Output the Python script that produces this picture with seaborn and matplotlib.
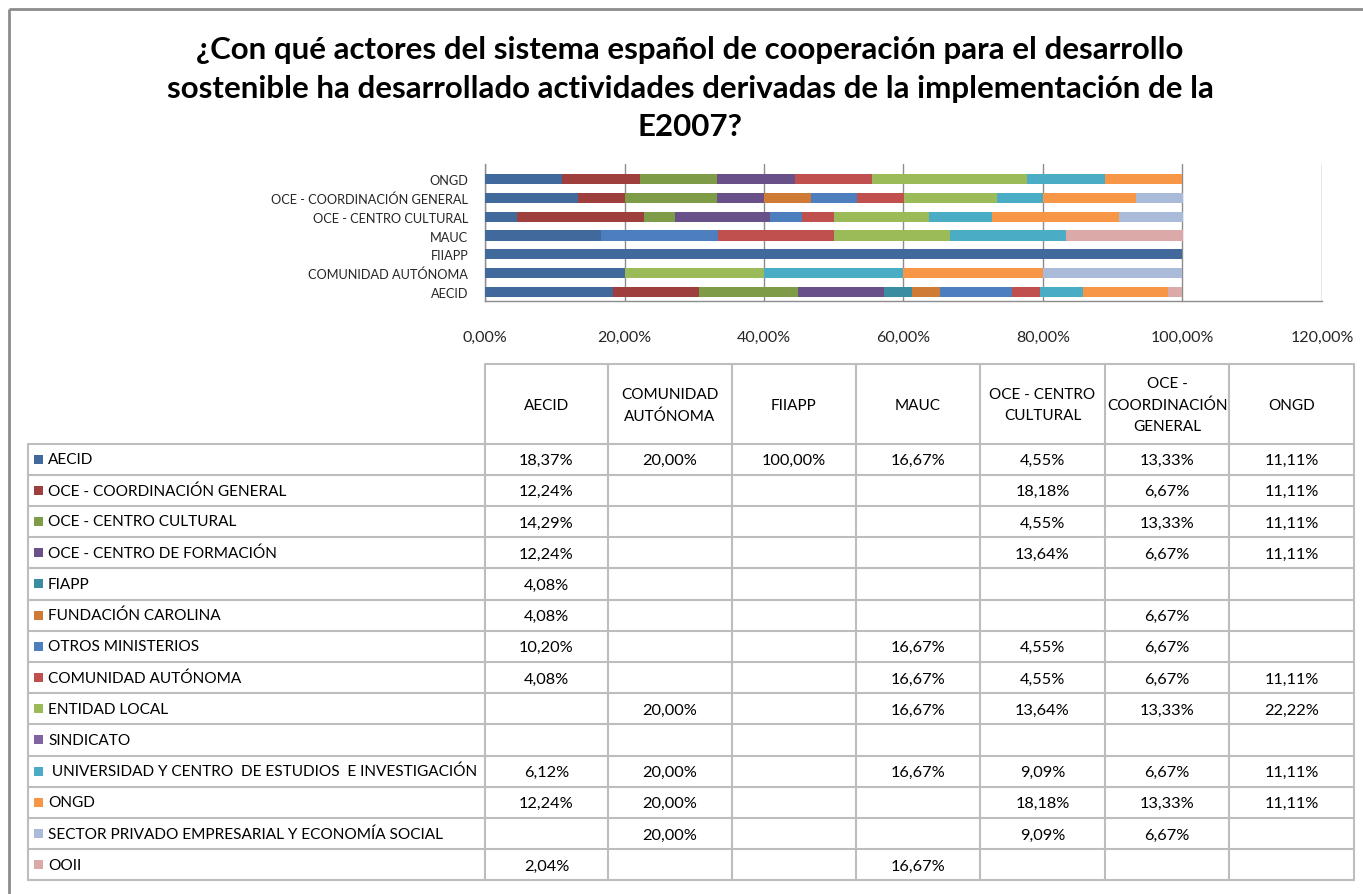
import numpy as np
import pandas as pd
import matplotlib
matplotlib.use("Agg")
import matplotlib.pyplot as plt
import seaborn as sns

# ---------------- data ----------------
categories = ["AECID", "COMUNIDAD AUTÓNOMA", "FIIAPP", "MAUC",
              "OCE - CENTRO CULTURAL", "OCE - COORDINACIÓN GENERAL", "ONGD"]
header_labels = ["AECID", "COMUNIDAD\nAUTÓNOMA", "FIIAPP", "MAUC",
                 "OCE - CENTRO\nCULTURAL", "OCE -\nCOORDINACIÓN\nGENERAL", "ONGD"]
series = ["AECID", "OCE - COORDINACIÓN GENERAL", "OCE - CENTRO CULTURAL",
          "OCE - CENTRO DE FORMACIÓN", "FIAPP", "FUNDACIÓN CAROLINA",
          "OTROS MINISTERIOS", "COMUNIDAD AUTÓNOMA", "ENTIDAD LOCAL", "SINDICATO",
          " UNIVERSIDAD Y CENTRO  DE ESTUDIOS  E INVESTIGACIÓN", "ONGD",
          "SECTOR PRIVADO EMPRESARIAL Y ECONOMÍA SOCIAL", "OOII"]

v_aecid = [18.37, 12.24, 14.29, 12.24, 4.08, 4.08, 10.20, 4.08, 0, 0, 6.12, 12.24, 0, 2.04]
v_comunidad = [20.00, 0, 0, 0, 0, 0, 0, 0, 20.00, 0, 20.00, 20.00, 20.00, 0]
v_fiiapp = [100.00, 0, 0, 0, 0, 0, 0, 0, 0, 0, 0, 0, 0, 0]
v_mauc = [16.67, 0, 0, 0, 0, 0, 16.67, 16.67, 16.67, 0, 16.67, 0, 0, 16.67]
v_oce_cc = [4.55, 18.18, 4.55, 13.64, 0, 0, 4.55, 4.55, 13.64, 0, 9.09, 18.18, 9.09, 0]
v_oce_cg = [13.33, 6.67, 13.33, 6.67, 0, 6.67, 6.67, 6.67, 13.33, 0, 6.67, 13.33, 6.67, 0]
v_ongd = [11.11, 11.11, 11.11, 11.11, 0, 0, 0, 11.11, 22.22, 0, 11.11, 11.11, 0, 0]

xticks = [0, 20, 40, 60, 80, 100, 120]

colors = ["#41699B", "#9E3F3D", "#7E9B48", "#6A5089", "#3A8CA1", "#CF7B35",
          "#4D7EBD", "#C0504D", "#9BBB59", "#8064A2", "#4BACC6", "#F79646",
          "#A9BBD9", "#DBA9A8"]

title_lines = ["¿Con qué actores del sistema español de cooperación para el desarrollo",
               "sostenible ha desarrollado actividades derivadas de la implementación de la",
               "E2007?"]

df = pd.DataFrame({c: v for c, v in zip(categories,
                   [v_aecid, v_comunidad, v_fiiapp, v_mauc, v_oce_cc, v_oce_cg, v_ongd])},
                  index=series)

# ---------------- figure ----------------
sns.set_theme(style="white")
FONT = ["Lato", "DejaVu Sans"]
plt.rcParams["font.family"] = FONT

W, H = 1363, 895
fig = plt.figure(figsize=(W / 100, H / 100), dpi=100)
fig.patch.set_facecolor("white")

# overlay axes in pixel coordinates for frame/table
tax = fig.add_axes([0, 0, 1, 1])
tax.set_xlim(0, W)
tax.set_ylim(H, 0)
tax.axis("off")
tax.patch.set_alpha(0)

# outer frame
tax.plot([9, 9], [10, H], color="#8C8C8C", lw=2, solid_capstyle="butt")
tax.plot([9, W], [10, 10], color="#8C8C8C", lw=2, solid_capstyle="butt")

# title
for yy, line in zip([50, 89, 127], title_lines):
    tax.text(690, yy, line, ha="center", va="center", fontsize=22.5,
             fontweight="bold", color="black")

# ---------------- stacked bar chart ----------------
x0, x1, y0, y1 = 485, 1322, 165, 302
ax = fig.add_axes([x0 / W, 1 - y1 / H, (x1 - x0) / W, (y1 - y0) / H])
order = categories[::-1]
cum = df.cumsum(axis=0)
for i in range(len(series) - 1, -1, -1):
    sns.barplot(x=cum.iloc[i][order].values, y=order, order=order, orient="h",
                color=colors[i], saturation=1, width=0.54, linewidth=0,
                ax=ax, zorder=3)
ax.set_xlim(0, 120)
ax.set_ylim(6.48, -0.80)
ax.set_xticks(xticks)
ax.set_xticklabels([f"{t:.2f}".replace(".", ",") + "%" for t in xticks], fontsize=11.5)
ax.tick_params(axis="y", labelsize=9.2, length=0, pad=12)
ax.tick_params(axis="x", length=0, pad=21)
ax.grid(axis="x", color="#8C8C8C", lw=1.0, zorder=0)
for s in ["top", "right"]:
    ax.spines[s].set_visible(False)
for s in ["left", "bottom"]:
    ax.spines[s].set_color("#8C8C8C")
    ax.spines[s].set_linewidth(1.0)
ax.set_xlabel("")
ax.set_ylabel("")

# ---------------- data table ----------------
col_x = [485, 608, 732, 856, 980, 1105, 1229, 1354]
lab_x = 28
head_top, row_top, row_h = 365, 444.5, 31.2
n = len(series)
row_bot = row_top + n * row_h
grid_c = "#BDBDBD"
lw = 1.5
for x in col_x:
    tax.plot([x, x], [head_top, row_bot], color=grid_c, lw=lw)
tax.plot([lab_x, lab_x], [row_top, row_bot], color=grid_c, lw=lw)
tax.plot([col_x[0], col_x[-1]], [head_top, head_top], color=grid_c, lw=lw)
for k in range(n + 1):
    y = row_top + k * row_h
    tax.plot([lab_x, col_x[-1]], [y, y], color=grid_c, lw=lw)

for j, lab in enumerate(header_labels):
    cx = (col_x[j] + col_x[j + 1]) / 2
    tax.text(cx, (head_top + row_top) / 2 + 1, lab, ha="center", va="center",
             fontsize=11, linespacing=1.65, color="black")

for i, s in enumerate(series):
    cy = row_top + (i + 0.5) * row_h
    tax.add_patch(plt.Rectangle((34, cy - 4.5), 9, 9, color=colors[i], lw=0))
    tax.text(48, cy, s, ha="left", va="center", fontsize=11.1, color="black")
    for j, c in enumerate(categories):
        v = df.loc[s, c]
        if v > 0:
            cx = (col_x[j] + col_x[j + 1]) / 2
            tax.text(cx, cy + 1, f"{v:.2f}".replace(".", ",") + "%", ha="center",
                     va="center", fontsize=11.8, color="black")

fig.savefig("out.png", dpi=100, facecolor="white")
